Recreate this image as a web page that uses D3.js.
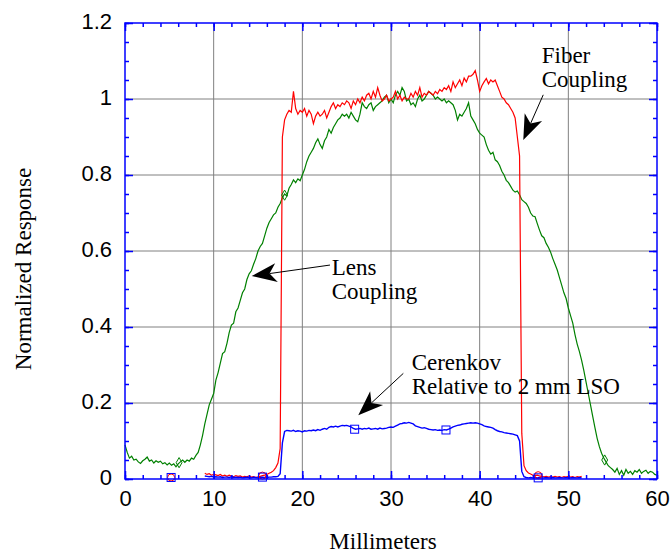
<!DOCTYPE html>
<html>
<head>
<meta charset="utf-8">
<script src="https://cdn.jsdelivr.net/npm/d3@7"></script>
<style>
  body { margin: 0; background: #fff; }
  .tick text { font-family: "Liberation Sans", Arial, sans-serif; font-size: 22px; fill: #000; }
  .serif { font-family: "Liberation Serif", "Times New Roman", serif; font-size: 23px; fill: #000; }
</style>
</head>
<body>
<script>
// sampling grid (mm) for the three traces
let greenStart = 0, redStart = 9, blueStart = 9, step = 0.25;

// Lens coupling (green), 0 .. 60 mm
let green = [
  0.09,0.07,0.055,0.06,0.05,0.052,0.045,0.041,0.048,0.052,
  0.058,0.047,0.05,0.042,0.048,0.044,0.047,0.04,0.043,0.037,
  0.042,0.036,0.04,0.032,0.04,0.045,0.05,0.044,0.05,0.047,
  0.055,0.052,0.062,0.07,0.09,0.115,0.145,0.17,0.195,0.21,
  0.225,0.26,0.28,0.305,0.33,0.335,0.357,0.385,0.405,0.41,
  0.44,0.45,0.47,0.49,0.5,0.525,0.54,0.548,0.565,0.58,
  0.6,0.612,0.62,0.64,0.66,0.675,0.685,0.695,0.7,0.715,
  0.725,0.74,0.75,0.745,0.765,0.775,0.787,0.78,0.79,0.785,
  0.8,0.815,0.835,0.85,0.86,0.87,0.885,0.895,0.88,0.87,
  0.89,0.9,0.92,0.91,0.925,0.935,0.945,0.95,0.96,0.955,
  0.96,0.95,0.965,0.955,0.945,0.94,0.96,0.99,0.98,0.975,
  0.985,0.99,0.97,0.98,0.985,0.99,0.995,1.005,1.01,0.99,
  1.0,0.99,1.01,1.02,1.01,1.03,1.02,0.995,1.0,0.985,
  0.99,0.98,1.0,1.01,0.995,1.0,1.01,1.02,1.015,1.01,
  1.0,1.005,1.0,0.995,1.0,0.99,0.995,0.99,0.985,0.97,
  0.945,0.96,0.955,0.965,0.975,0.99,0.955,0.945,0.935,0.92,
  0.91,0.905,0.9,0.88,0.865,0.855,0.86,0.84,0.835,0.825,
  0.81,0.8,0.786,0.78,0.77,0.76,0.755,0.758,0.748,0.735,
  0.73,0.725,0.715,0.7,0.692,0.69,0.672,0.655,0.64,0.635,
  0.62,0.61,0.597,0.58,0.565,0.55,0.53,0.51,0.49,0.475,
  0.45,0.43,0.41,0.38,0.355,0.335,0.312,0.285,0.255,0.225,
  0.195,0.165,0.135,0.107,0.085,0.068,0.055,0.045,0.035,0.03,
  0.025,0.018,0.028,0.012,0.022,0.01,0.025,0.015,0.02,0.012,
  0.022,0.018,0.025,0.015,0.02,0.023,0.015,0.02,0.018,0.012,
  0.01
];

// Fiber coupling (red), 9 .. 51.5 mm
let red = [
  0.015,0.012,0.014,0.01,0.012,0.011,0.009,0.012,0.008,0.01,
  0.007,0.01,0.008,0.006,0.009,0.007,0.008,0.005,0.007,0.006,
  0.008,0.005,0.006,0.004,0.006,0.007,0.009,0.01,0.012,0.015,
  0.018,0.022,0.03,0.042,0.08,0.9,0.945,0.96,0.97,0.965,
  1.02,0.975,0.96,0.97,0.965,0.975,0.955,0.97,0.96,0.935,
  0.955,0.965,0.955,0.96,0.97,0.95,0.965,0.98,0.99,0.975,
  0.985,0.98,0.99,0.985,0.995,0.99,0.975,0.995,0.985,1.0,
  0.99,1.005,0.995,1.01,1.015,1.0,1.02,1.005,1.03,1.01,
  0.995,1.0,1.01,0.995,1.0,1.005,1.02,1.0,1.01,0.995,
  1.005,1.0,1.0,1.015,1.005,1.02,1.01,1.03,1.005,1.015,
  1.01,1.02,1.015,1.01,1.02,1.014,1.025,1.02,1.03,1.025,
  1.035,1.02,1.045,1.03,1.04,1.05,1.035,1.055,1.045,1.06,
  1.06,1.065,1.075,1.05,1.02,1.035,1.045,1.054,1.04,1.05,
  1.045,1.05,1.035,1.02,1.005,1.0,0.99,0.985,0.975,0.965,
  0.95,0.9,0.85,0.12,0.035,0.022,0.016,0.013,0.01,0.009,
  0.01,0.008,0.007,0.006,0.007,0.005,0.006,0.005,0.007,0.005,
  0.006,0.004,0.006,0.005,0.007,0.005,0.006,0.004,0.006,0.005,
  0.007
];

// Cerenkov relative to 2 mm LSO (blue), 9 .. 51.5 mm
let blue = [
  0.008,0.007,0.006,0.007,0.005,0.006,0.005,0.006,0.004,0.005,
  0.005,0.004,0.006,0.004,0.005,0.004,0.005,0.003,0.004,0.005,
  0.004,0.003,0.005,0.004,0.003,0.004,0.005,0.004,0.004,0.005,
  0.005,0.006,0.006,0.007,0.014,0.095,0.125,0.128,0.127,0.126,
  0.128,0.125,0.127,0.126,0.124,0.127,0.126,0.128,0.127,0.129,
  0.127,0.13,0.128,0.131,0.133,0.131,0.136,0.138,0.137,0.139,
  0.137,0.139,0.141,0.14,0.141,0.139,0.137,0.133,0.131,0.132,
  0.133,0.131,0.133,0.132,0.134,0.131,0.132,0.133,0.131,0.134,
  0.132,0.133,0.134,0.136,0.137,0.136,0.139,0.142,0.145,0.146,
  0.148,0.147,0.149,0.147,0.145,0.14,0.138,0.136,0.134,0.135,
  0.133,0.131,0.13,0.129,0.13,0.128,0.129,0.128,0.13,0.129,
  0.131,0.134,0.137,0.139,0.141,0.142,0.144,0.145,0.146,0.147,
  0.148,0.147,0.148,0.147,0.145,0.143,0.14,0.138,0.137,0.136,
  0.134,0.13,0.127,0.125,0.124,0.122,0.121,0.12,0.119,0.118,
  0.116,0.114,0.1,0.02,0.006,0.004,0.003,0.004,0.003,0.004,
  0.003,0.004,0.003,0.003,0.004,0.003,0.003,0.004,0.003,0.003,
  0.004,0.003,0.003,0.004,0.003,0.003,0.004,0.003,0.003,0.004,
  0.003
];

// plot symbols
let blueSquareX = [5.2, 15.5, 25.9, 36.2, 46.6];
let blueSquareY = [0.004, 0.005, 0.131, 0.129, 0.003];
let redCircleX = [5.2, 15.5, 46.6];
let redCircleY = [0.004, 0.009, 0.01];
let greenMarkX = [6.1, 18.0, 54.1];
let greenMarkY = [0.043, 0.747, 0.05];

let xTicks = [0, 10, 20, 30, 40, 50, 60];
let yTicks = [0, 0.2, 0.4, 0.6, 0.8, 1, 1.2];

// annotations: text lines, text anchor (data units), arrow start and tip
let notes = [
  {lines: ["Fiber", "Coupling"], x: 47.0, y: 1.096, from: [47.17, 1.011], to: [44.92, 0.892]},
  {lines: ["Lens", "Coupling"], x: 23.31, y: 0.537, from: [23.12, 0.563], to: [14.29, 0.534]},
  {lines: ["Cerenkov", "Relative to 2 mm LSO"], x: 32.33, y: 0.287, from: [31.39, 0.278], to: [26.31, 0.168]}
];

let outerWidth = 670, outerHeight = 556;
let margin = {top: 23, right: 13, bottom: 77, left: 125};
let width = outerWidth - margin.left - margin.right;
let height = outerHeight - margin.top - margin.bottom;

let frameColor = "#0000ff";
let gridColor = "#808080";

let svg = d3.select("body").append("svg")
    .attr("width", outerWidth)
    .attr("height", outerHeight);
let g = svg.append("g")
    .attr("transform", "translate(" + margin.left + "," + margin.top + ")");

let xScale = d3.scaleLinear().domain([0, 60]).range([0, width]);
let yScale = d3.scaleLinear().domain([0, 1.2]).range([height, 0]);

// grid
g.append("g").selectAll("line.vgrid")
    .data(xTicks.slice(1, -1)).enter().append("line")
    .attr("x1", d => xScale(d)).attr("x2", d => xScale(d))
    .attr("y1", 0).attr("y2", height)
    .attr("stroke", gridColor).attr("stroke-width", 1);
g.append("g").selectAll("line.hgrid")
    .data(yTicks.slice(1, -1)).enter().append("line")
    .attr("y1", d => yScale(d)).attr("y2", d => yScale(d))
    .attr("x1", 0).attr("x2", width)
    .attr("stroke", gridColor).attr("stroke-width", 1);

function toPoints(values, start) {
    return values.map(function(v, i) { return [start + i * step, v]; });
}

let line = d3.line()
    .x(d => xScale(d[0]))
    .y(d => yScale(d[1]));

g.append("path").attr("d", line(toPoints(green, greenStart)))
    .attr("fill", "none").attr("stroke", "#008000").attr("stroke-width", 1.2);
g.append("path").attr("d", line(toPoints(red, redStart)))
    .attr("fill", "none").attr("stroke", "#ff0000").attr("stroke-width", 1.2);
g.append("path").attr("d", line(toPoints(blue, blueStart)))
    .attr("fill", "none").attr("stroke", "#0000ff").attr("stroke-width", 1.4);

// symbols
g.selectAll(".gmark").data(greenMarkX).enter().append("path")
    .attr("d", d3.symbol(d3.symbolDiamond, 30)())
    .attr("transform", (d, i) => "translate(" + xScale(d) + "," + yScale(greenMarkY[i]) + ")")
    .attr("fill", "none").attr("stroke", "#008000").attr("stroke-width", 1);
g.selectAll(".rmark").data(redCircleX).enter().append("circle")
    .attr("cx", d => xScale(d))
    .attr("cy", (d, i) => yScale(redCircleY[i]))
    .attr("r", 3.5)
    .attr("fill", "none").attr("stroke", "#ff0000").attr("stroke-width", 1);
g.selectAll(".bmark").data(blueSquareX).enter().append("rect")
    .attr("x", d => xScale(d) - 4)
    .attr("y", (d, i) => yScale(blueSquareY[i]) - 4)
    .attr("width", 8).attr("height", 8)
    .attr("fill", "none").attr("stroke", "#0000ff").attr("stroke-width", 1);

// axes with inside ticks on all four sides
function styleAxis(sel) {
    sel.select(".domain").remove();
    sel.selectAll(".tick line").attr("stroke", frameColor).attr("stroke-width", 1.5);
}
let xMinor = d3.range(0, 61, 2);
let yMinor = d3.range(0, 1.2001, 0.05);

g.append("g").attr("transform", "translate(0," + height + ")")
    .call(d3.axisBottom(xScale).tickValues(xMinor).tickSize(-4).tickFormat("")).call(styleAxis);
g.append("g").attr("transform", "translate(0," + height + ")")
    .call(d3.axisBottom(xScale).tickValues(xTicks).tickSize(-8).tickPadding(11).tickFormat(d3.format("")))
    .call(styleAxis);
g.append("g")
    .call(d3.axisTop(xScale).tickValues(xMinor).tickSize(-4).tickFormat("")).call(styleAxis);
g.append("g")
    .call(d3.axisTop(xScale).tickValues(xTicks).tickSize(-8).tickFormat("")).call(styleAxis);

g.append("g")
    .call(d3.axisLeft(yScale).tickValues(yMinor).tickSize(-4).tickFormat("")).call(styleAxis);
g.append("g")
    .call(d3.axisLeft(yScale).tickValues(yTicks).tickSize(-8).tickPadding(13).tickFormat(d3.format("")))
    .call(styleAxis)
    .selectAll("text").attr("dy", "0.24em");
g.append("g").attr("transform", "translate(" + width + ",0)")
    .call(d3.axisRight(yScale).tickValues(yMinor).tickSize(-4).tickFormat("")).call(styleAxis);
g.append("g").attr("transform", "translate(" + width + ",0)")
    .call(d3.axisRight(yScale).tickValues(yTicks).tickSize(-8).tickFormat("")).call(styleAxis);

g.append("rect")
    .attr("x", 0).attr("y", 0).attr("width", width).attr("height", height)
    .attr("fill", "none").attr("stroke", frameColor).attr("stroke-width", 1.5);

// axis titles
svg.append("text").attr("class", "serif")
    .attr("x", 383).attr("y", 549)
    .attr("text-anchor", "middle")
    .text("Millimeters");
svg.append("text").attr("class", "serif")
    .attr("transform", "translate(31,269) rotate(-90)")
    .attr("text-anchor", "middle")
    .text("Normalized Response");

// annotations
let ann = g.append("g").attr("class", "annotations");
notes.forEach(function(n) {
    n.lines.forEach(function(t, i) {
        ann.append("text").attr("class", "serif")
            .attr("x", xScale(n.x))
            .attr("y", yScale(n.y) + i * 24)
            .text(t);
    });
    let x0 = xScale(n.from[0]), y0 = yScale(n.from[1]);
    let x1 = xScale(n.to[0]), y1 = yScale(n.to[1]);
    let len = Math.hypot(x1 - x0, y1 - y0);
    let dx = (x1 - x0) / len, dy = (y1 - y0) / len;
    let nx = -dy, ny = dx;
    let L = 25, W = 9.5, notch = 18;
    ann.append("line")
        .attr("x1", x0).attr("y1", y0)
        .attr("x2", x1 - dx * notch).attr("y2", y1 - dy * notch)
        .attr("stroke", "#000").attr("stroke-width", 1);
    let head = [
        [x1, y1],
        [x1 - dx * L + nx * W, y1 - dy * L + ny * W],
        [x1 - dx * notch, y1 - dy * notch],
        [x1 - dx * L - nx * W, y1 - dy * L - ny * W]
    ];
    ann.append("path")
        .attr("d", "M" + head.map(p => p.join(",")).join("L") + "Z")
        .attr("fill", "#000");
});
</script>
</body>
</html>
